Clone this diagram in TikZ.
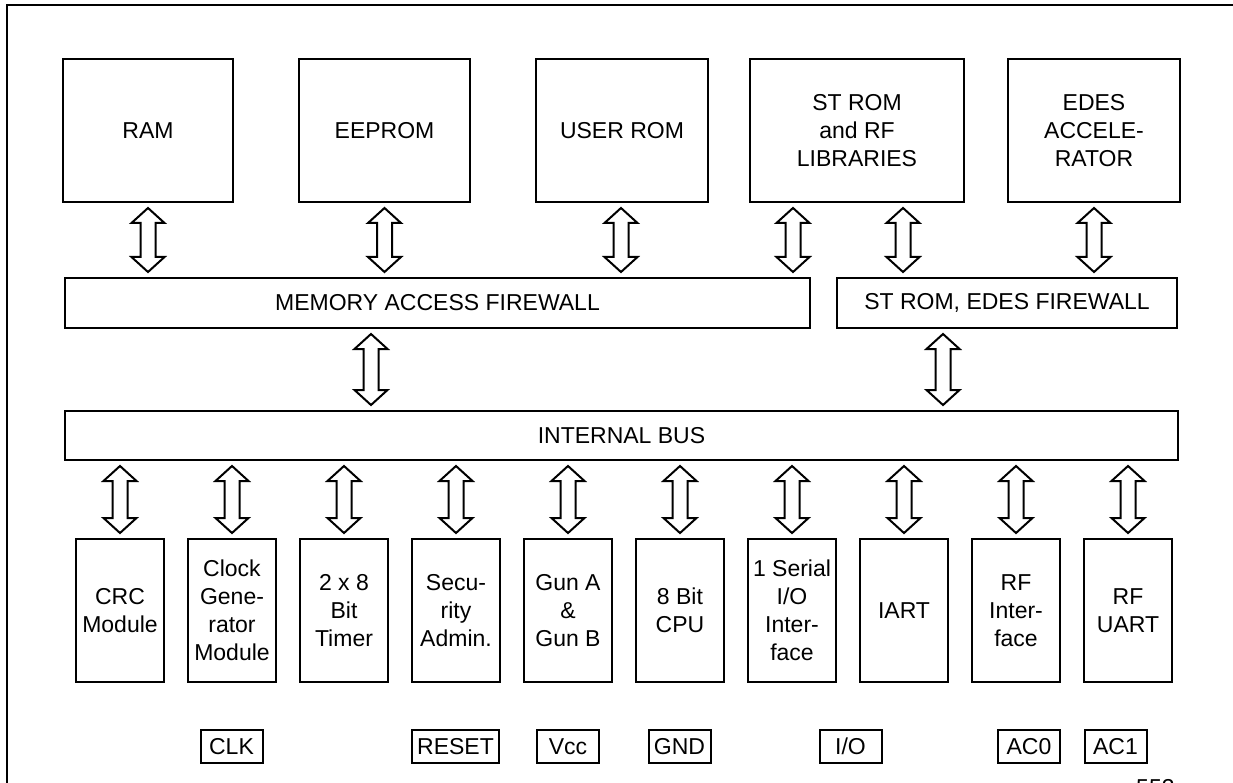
\documentclass[tikz,border=0pt]{standalone}
\usepackage{fontspec}
\setmainfont{Liberation Sans}
\usetikzlibrary{calc}
\tikzset{
  txt/.style={font=\fontsize{23pt}{28pt}\selectfont},
  blk/.style={txt, draw, line width=2pt, align=center, inner sep=0pt},
  topbox/.style={blk, minimum height=143pt},
  modbox/.style={blk, minimum width=88pt, minimum height=143pt},
  barbox/.style={blk, minimum height=50pt},
  pinbox/.style={txt, draw, line width=2pt, minimum height=33pt, minimum width=62pt, inner xsep=4pt, inner ysep=0pt},
  frameline/.style={line width=1.6pt},
  busarrow/.style={draw, line width=2pt, fill=white, line join=miter,
    to path={let \p1=(\tikztostart), \p2=(\tikztotarget) in
      (\x1,\y1-5pt) -- (\x1+16.5pt,\y1-20pt) -- (\x1+7.5pt,\y1-20pt) --
      (\x1+7.5pt,\y2+20pt) -- (\x1+16.5pt,\y2+20pt) -- (\x1,\y2+5pt) --
      (\x1-16.5pt,\y2+20pt) -- (\x1-7.5pt,\y2+20pt) -- (\x1-7.5pt,\y1-20pt) --
      (\x1-16.5pt,\y1-20pt) -- cycle}}
}
\begin{document}
\begin{tikzpicture}[x=1pt,y=-1pt]
\useasboundingbox (0,0) rectangle (1233,783);
\begin{scope}
\clip (0,0) rectangle (1233,783);
% outer frame (open at right and bottom)
\coordinate (fbl) at (7,783);
\coordinate (ftl) at (7,5);
\coordinate (ftr) at (1233,5);
\draw[frameline] (fbl) -- (ftl) -- (ftr);

% top memories
\node[topbox, minimum width=170pt] (ram)     at (148,130.5)   {RAM};
\node[topbox, minimum width=171pt] (eeprom)  at (384.5,130.5) {EEPROM};
\node[topbox, minimum width=172pt] (userrom) at (622,130.5)   {USER ROM};
\node[topbox, minimum width=214pt] (strom)   at (857,130.5)   {ST ROM\\and RF\\LIBRARIES};
\node[topbox, minimum width=172pt] (edes)    at (1094,130.5)  {EDES\\ACCELE-\\RATOR};

% firewalls and bus
\node[barbox, minimum width=745pt]  (maf)  at (437.5,303)  {MEMORY ACCESS FIREWALL};
\node[barbox, minimum width=340pt]  (stfw) at (1007,303)   {ST ROM, EDES FIREWALL};
\node[barbox, minimum width=1113pt, minimum height=49pt] (bus) at (621.5,435.5) {INTERNAL BUS};

% modules
\node[modbox] (crc)   at (120,610.5)  {CRC\\Module};
\node[modbox] (clkgen) at (232,610.5) {Clock\\Gene-\\rator\\Module};
\node[modbox] (timer) at (344,610.5)  {2 x 8\\Bit\\Timer};
\node[modbox] (sec)   at (456,610.5)  {Secu-\\rity\\Admin.};
\node[modbox] (gun)   at (568,610.5)  {Gun A\\\&\\Gun B};
\node[modbox] (cpu)   at (680,610.5)  {8 Bit\\CPU};
\node[modbox] (sio)   at (792,610.5)  {1 Serial\\I/O\\Inter-\\face};
\node[modbox] (iart)  at (904,610.5)  {IART};
\node[modbox] (rfif)  at (1016,610.5) {RF\\Inter-\\face};
\node[modbox] (rfuart) at (1128,610.5) {RF\\UART};

% pins
\node[pinbox] (pclk)   at (231.5,746.5)  {CLK};
\node[pinbox, minimum width=87pt] (preset) at (455.5,746.5) {RESET};
\node[pinbox] (pvcc)   at (568,746.5)    {Vcc};
\node[pinbox] (pgnd)   at (679.5,746.5)  {GND};
\node[pinbox] (pio)    at (850.5,746.5)  {I/O};
\node[pinbox] (pac0)   at (1029,746.5)   {AC0};
\node[pinbox] (pac1)   at (1115.5,746.5) {AC1};

% figure number (cut off at the bottom edge)
\node[txt, anchor=north west, inner sep=0pt] (fignum) at (1136,779) {553};

% arrows: memories to firewalls
\draw[busarrow] (ram.south) to (ram.south |- maf.north);
\draw[busarrow] (eeprom.south) to (eeprom.south |- maf.north);
\draw[busarrow] ([xshift=-1pt]userrom.south) to ([xshift=-1pt]userrom.south |- maf.north);
\draw[busarrow] ([xshift=-64pt]strom.south) to ([xshift=-64pt]strom.south |- maf.north);
\draw[busarrow] ([xshift=46pt]strom.south) to ([xshift=46pt]strom.south |- stfw.north);
\draw[busarrow] (edes.south) to (edes.south |- stfw.north);

% firewalls to bus
\draw[busarrow] ([xshift=-66.5pt]maf.south) to ([xshift=-66.5pt]maf.south |- bus.north);
\draw[busarrow] ([xshift=-64pt]stfw.south) to ([xshift=-64pt]stfw.south |- bus.north);

% bus to modules
\foreach \m in {crc,clkgen,timer,sec,gun,cpu,sio,iart,rfif,rfuart}{
  \draw[busarrow] (\m.north |- bus.south) to (\m.north);
}
\end{scope}
\end{tikzpicture}
\end{document}
